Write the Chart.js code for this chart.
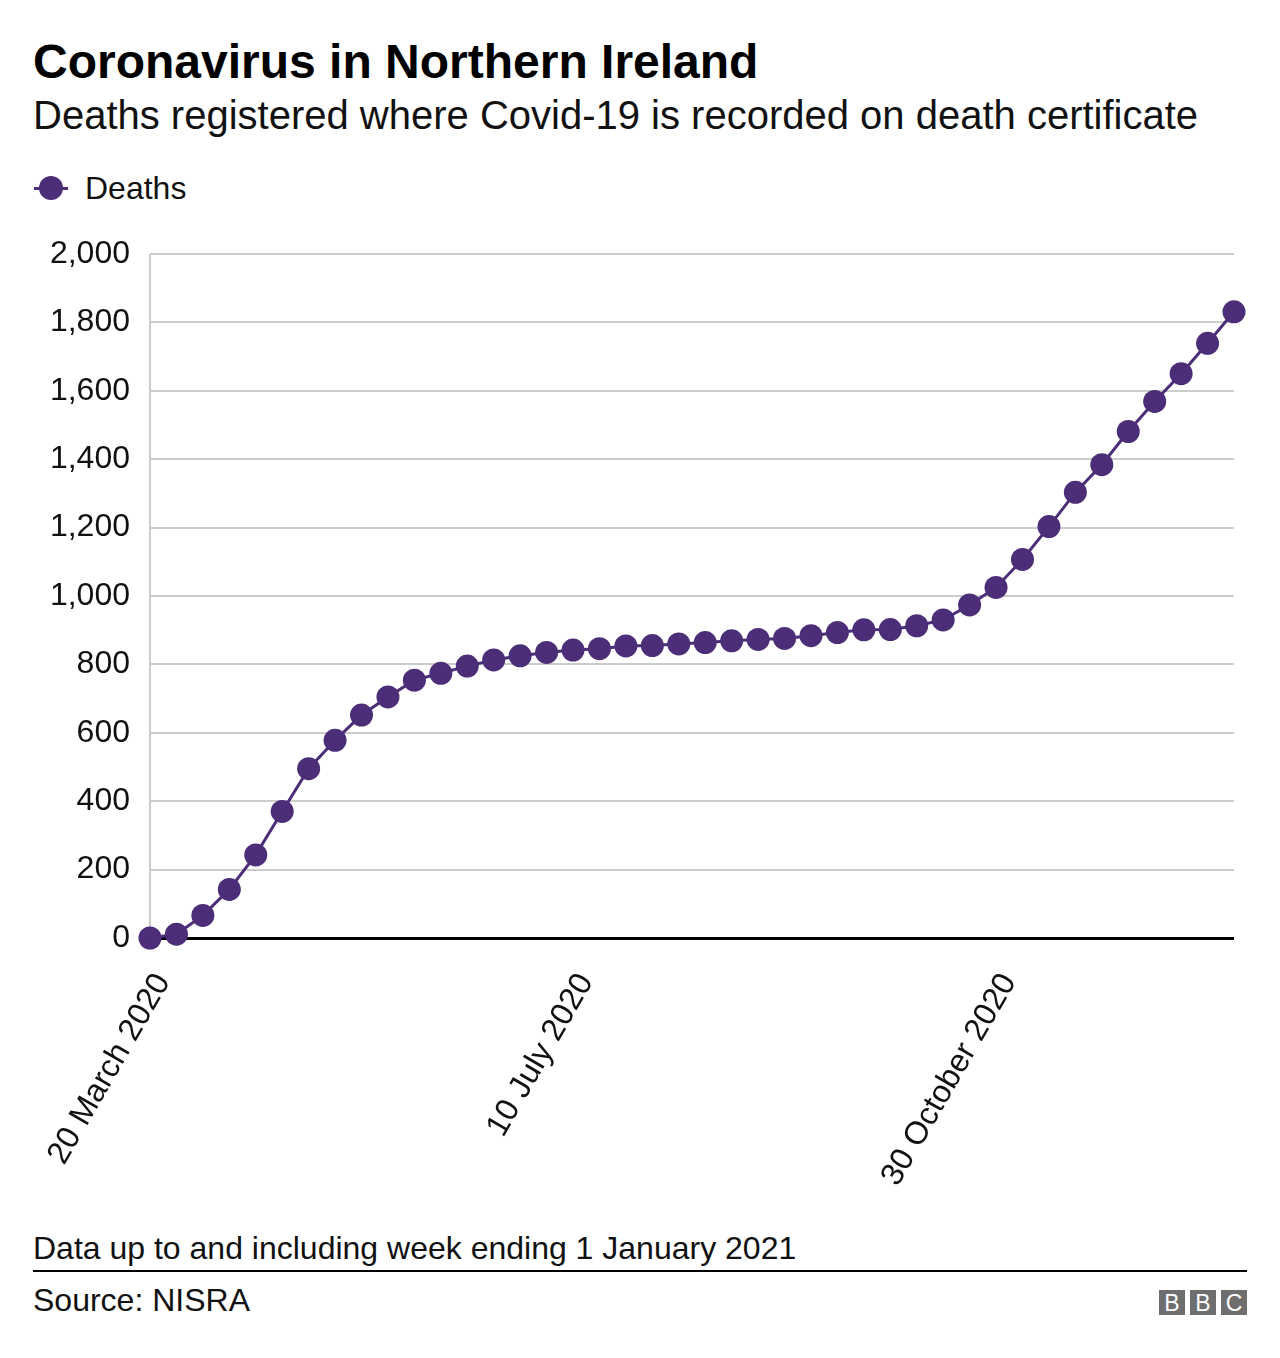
<!DOCTYPE html>
<html>
<head>
<meta charset="utf-8">
<script src="https://cdn.jsdelivr.net/npm/chart.js@4.4.1/dist/chart.umd.min.js"></script>
<style>
  html, body { margin: 0; padding: 0; background: #fff; }
  body { width: 1280px; height: 1358px; position: relative; font-family: "Liberation Sans", Arial, sans-serif; color: #000; overflow: hidden; }
  .abs { position: absolute; white-space: nowrap; }
  #title { left: 33px; top: 33px; font-size: 48px; font-weight: bold; line-height: 58px; }
  #subtitle { left: 33px; top: 93px; font-size: 40px; line-height: 44px; color: #111; }
  #legend { left: 34px; top: 170px; font-size: 32px; line-height: 36px; color: #111; }
  #legend .sym { display: inline-block; position: relative; width: 34px; height: 36px; vertical-align: top; margin-right: 17px; }
  #legend .sym .ln { position: absolute; left: 0; top: 17px; width: 34px; height: 3px; background: #4b2d78; }
  #legend .sym .dot { position: absolute; left: 5px; top: 6px; width: 24px; height: 24px; border-radius: 50%; background: #4b2d78; }
  #note { left: 33px; top: 1229px; font-size: 32px; line-height: 38px; color: #111; }
  #rule { left: 33px; top: 1270px; width: 1214px; height: 2px; background: #000; }
  #source { left: 33px; top: 1281px; font-size: 32px; line-height: 38px; color: #111; }
  #bbc { left: 1159px; top: 1290px; }
  #bbc span { display: inline-block; width: 26px; height: 25px; background: #6e6e6e; color: #fff; font-size: 23px; line-height: 26px; text-align: center; margin-right: 5px; vertical-align: top; }
  #bbc span:last-child { margin-right: 0; }
  #wrap { position: absolute; left: 0; top: 230px; width: 1280px; height: 960px; }
</style>
</head>
<body>
<div id="title" class="abs">Coronavirus in Northern Ireland</div>
<div id="subtitle" class="abs">Deaths registered where Covid-19 is recorded on death certificate</div>
<div id="legend" class="abs"><span class="sym"><span class="ln"></span><span class="dot"></span></span>Deaths</div>
<div id="wrap"><canvas id="c" width="1280" height="960"></canvas></div>
<div id="note" class="abs">Data up to and including week ending 1 January 2021</div>
<div id="rule" class="abs"></div>
<div id="source" class="abs">Source: NISRA</div>
<div id="bbc" class="abs"><span>B</span><span>B</span><span>C</span></div>
<script>
const weeks = [
  "20 March 2020", "27 March 2020", "3 April 2020", "10 April 2020", "17 April 2020", "24 April 2020",
  "1 May 2020", "8 May 2020", "15 May 2020", "22 May 2020", "29 May 2020",
  "5 June 2020", "12 June 2020", "19 June 2020", "26 June 2020",
  "3 July 2020", "10 July 2020", "17 July 2020", "24 July 2020", "31 July 2020",
  "7 August 2020", "14 August 2020", "21 August 2020", "28 August 2020",
  "4 September 2020", "11 September 2020", "18 September 2020", "25 September 2020",
  "2 October 2020", "9 October 2020", "16 October 2020", "23 October 2020", "30 October 2020",
  "6 November 2020", "13 November 2020", "20 November 2020", "27 November 2020",
  "4 December 2020", "11 December 2020", "18 December 2020", "25 December 2020",
  "1 January 2021"
];
const deaths = [
  0, 11, 66, 142, 243, 370, 495, 578, 652, 705,
  754, 774, 795, 813, 825, 835, 842, 846, 854, 855,
  860, 864, 869, 873, 876, 884, 893, 901, 902, 913,
  930, 974, 1025, 1107, 1203, 1303, 1384, 1481, 1569, 1650,
  1739, 1831
];
const shownTickLabels = ["20 March 2020", "10 July 2020", "30 October 2020"];
const yMin = 0, yMax = 2000, yStep = 200;

const purple = "#4b2d78";
const fontFamily = '"Liberation Sans", Arial, sans-serif';

new Chart(document.getElementById("c"), {
  type: "line",
  data: {
    labels: weeks,
    datasets: [{
      label: "Deaths",
      data: deaths,
      borderColor: purple,
      backgroundColor: purple,
      borderWidth: 3,
      pointRadius: 11.5,
      pointHoverRadius: 11.5,
      pointBackgroundColor: purple,
      pointBorderWidth: 0,
      tension: 0,
      clip: false
    }]
  },
  options: {
    responsive: false,
    animation: false,
    devicePixelRatio: 1,
    layout: { padding: { left: 0, right: 46, top: 24, bottom: 0 } },
    plugins: { legend: { display: false }, tooltip: { enabled: false } },
    scales: {
      x: {
        type: "category",
        offset: false,
        grid: {
          drawOnChartArea: true,
          drawTicks: false,
          color: (ctx) => ctx.index === 0 ? "#cccccc" : "rgba(0,0,0,0)",
          lineWidth: 2
        },
        border: { display: false },
        ticks: {
          autoSkip: false,
          maxRotation: 60,
          minRotation: 60,
          padding: 29,
          labelOffset: 13,
          color: "#111",
          font: { family: fontFamily, size: 32 },
          callback: function(value, index) {
            const lab = this.getLabelForValue(value);
            return shownTickLabels.includes(lab) ? lab : "";
          }
        },
        afterFit: (scale) => { scale.height = 252; scale.paddingLeft = 0; scale.paddingRight = 0; }
      },
      y: {
        min: yMin,
        max: yMax,
        ticks: {
          stepSize: yStep,
          padding: 20,
          color: "#111",
          font: { family: fontFamily, size: 32 },
          callback: (v) => v.toLocaleString("en-GB")
        },
        grid: {
          drawTicks: false,
          color: (ctx) => ctx.tick && ctx.tick.value === 0 ? "#000000" : "#cccccc",
          lineWidth: (ctx) => ctx.tick && ctx.tick.value === 0 ? 3 : 2
        },
        border: { display: false },
        afterFit: (scale) => { scale.width = 150; scale.paddingTop = 0; scale.paddingBottom = 0; }
      }
    }
  }
});
</script>
</body>
</html>
